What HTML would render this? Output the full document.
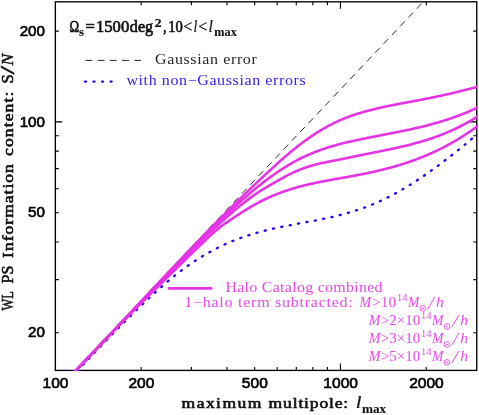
<!DOCTYPE html>
<html><head><meta charset="utf-8"><title>chart</title>
<style>html,body{margin:0;padding:0;background:#fff}svg{display:block}</style></head>
<body>
<svg width="479" height="415" viewBox="0 0 479 415">
<rect width="479" height="415" fill="#fff"/>
<g>
<defs><filter id="nf" filterUnits="userSpaceOnUse" x="0" y="0" width="479" height="415"><feOffset dx="0" dy="0"/></filter><clipPath id="cp"><rect x="54.75" y="1.20" width="422.60" height="369.80"/></clipPath></defs>
<rect x="55.35" y="1.80" width="421.40" height="368.60" fill="none" stroke="#000" stroke-width="1.35"/>
<path d="M141.17 370.40 v-3.50 M141.17 1.80 v3.50 M191.38 370.40 v-3.50 M191.38 1.80 v3.50 M227.00 370.40 v-3.50 M227.00 1.80 v3.50 M254.63 370.40 v-3.50 M254.63 1.80 v3.50 M277.20 370.40 v-3.50 M277.20 1.80 v3.50 M296.29 370.40 v-3.50 M296.29 1.80 v3.50 M312.82 370.40 v-3.50 M312.82 1.80 v3.50 M327.40 370.40 v-3.50 M327.40 1.80 v3.50 M340.45 370.40 v-6.90 M340.45 1.80 v6.90 M426.27 370.40 v-3.50 M426.27 1.80 v3.50 M55.35 332.72 h3.50 M476.75 332.72 h-3.50 M55.35 279.61 h3.50 M476.75 279.61 h-3.50 M55.35 241.93 h3.50 M476.75 241.93 h-3.50 M55.35 212.70 h3.50 M476.75 212.70 h-3.50 M55.35 188.82 h3.50 M476.75 188.82 h-3.50 M55.35 168.63 h3.50 M476.75 168.63 h-3.50 M55.35 151.14 h3.50 M476.75 151.14 h-3.50 M55.35 135.71 h3.50 M476.75 135.71 h-3.50 M55.35 121.91 h6.90 M476.75 121.91 h-6.90 M55.35 31.12 h3.50 M476.75 31.12 h-3.50" stroke="#000" stroke-width="1.1" fill="none"/>
<g clip-path="url(#cp)" fill="none">
<path d="M74.00 371.24 L426.00 -1.03" stroke="#111" stroke-width="0.9" stroke-dasharray="6.8 5.325" stroke-dashoffset="10.2"/>
<path d="M77.01 371.22 L77.76 370.42 M82.84 365.03 L83.60 364.23 M88.69 358.84 L89.44 358.04 M94.55 352.67 L95.31 351.88 M100.43 346.53 L101.19 345.73 M106.34 340.40 L107.10 339.61 M112.27 334.30 L113.04 333.52 M118.23 328.24 L119.01 327.45 M124.23 322.20 L125.01 321.42 M130.27 316.21 L131.05 315.44 M136.35 310.26 L137.14 309.49 M142.48 304.35 L143.27 303.59 M148.66 298.50 L149.46 297.75 M154.90 292.73 L155.72 291.99 M161.23 287.04 L162.06 286.31 M167.66 281.47 L168.50 280.76 M174.22 276.04 L175.07 275.35 M180.91 270.80 L181.79 270.13 M187.77 265.76 L188.67 265.13 M194.81 260.97 L195.73 260.37 M202.01 256.44 L202.95 255.88 M209.37 252.18 L210.33 251.65 M216.89 248.20 L217.87 247.71 M224.56 244.52 L225.56 244.07 M232.37 241.15 L233.39 240.74 M240.31 238.09 L241.35 237.72 M248.36 235.35 L249.41 235.02 M256.51 232.90 L257.57 232.60 M264.73 230.71 L265.80 230.44 M273.01 228.74 L274.08 228.50 M281.33 226.94 L282.40 226.72 M289.67 225.28 L290.75 225.07 M298.03 223.69 L299.11 223.48 M306.39 222.12 L307.47 221.92 M314.75 220.53 L315.83 220.32 M323.09 218.86 L324.17 218.64 M331.41 217.07 L332.48 216.83 M339.69 215.10 L340.75 214.83 M347.91 212.91 L348.97 212.61 M356.06 210.46 L357.10 210.13 M364.11 207.72 L365.14 207.34 M372.05 204.66 L373.06 204.24 M379.85 201.26 L380.85 200.80 M387.51 197.57 L388.49 197.07 M395.04 193.60 L396.01 193.08 M402.44 189.41 L403.39 188.85 M409.73 185.01 L410.66 184.43 M416.90 180.43 L417.82 179.83 M423.96 175.69 L424.87 175.07 M430.93 170.81 L431.83 170.17 M437.82 165.81 L438.70 165.16 M444.62 160.70 L445.49 160.04 M451.35 155.50 L452.22 154.82 M458.02 150.21 L458.88 149.53 M464.63 144.86 L465.48 144.16 M471.19 139.44 L472.03 138.73" stroke="#2200e8" stroke-width="2.3" stroke-linecap="round"/>
<path d="M74.00 372.38 L75.00 371.34 L76.00 370.30 L77.00 369.26 L78.00 368.22 L79.00 367.18 L80.00 366.14 L81.00 365.09 L82.00 364.05 L83.00 363.00 L84.00 361.96 L85.00 360.91 L86.00 359.86 L87.00 358.81 L88.00 357.76 L89.00 356.71 L90.00 355.66 L91.00 354.61 L92.00 353.56 L93.00 352.50 L94.00 351.45 L95.00 350.39 L96.00 349.34 L97.00 348.28 L98.00 347.23 L99.00 346.17 L100.00 345.11 L101.00 344.05 L102.00 342.99 L103.00 341.93 L104.00 340.87 L105.00 339.81 L106.00 338.75 L107.00 337.69 L108.00 336.63 L109.00 335.57 L110.00 334.51 L111.00 333.44 L112.00 332.38 L113.00 331.32 L114.00 330.25 L115.00 329.19 L116.00 328.12 L117.00 327.06 L118.00 325.99 L119.00 324.93 L120.00 323.86 L121.00 322.79 L122.00 321.73 L123.00 320.66 L124.00 319.59 L125.00 318.53 L126.00 317.46 L127.00 316.39 L128.00 315.32 L129.00 314.26 L130.00 313.19 L131.00 312.12 L132.00 311.05 L133.00 309.99 L134.00 308.92 L135.00 307.85 L136.00 306.78 L137.00 305.71 L138.00 304.65 L139.00 303.58 L140.00 302.51 L141.00 301.44 L142.00 300.37 L143.00 299.31 L144.00 298.24 L145.00 297.17 L146.00 296.11 L147.00 295.04 L148.00 293.97 L149.00 292.91 L150.00 291.84 L151.00 290.77 L152.00 289.71 L153.00 288.64 L154.00 287.58 L155.00 286.51 L156.00 285.45 L157.00 284.38 L158.00 283.32 L159.00 282.26 L160.00 281.19 L161.00 280.13 L162.00 279.07 L163.00 278.00 L164.00 276.94 L165.00 275.88 L166.00 274.82 L167.00 273.76 L168.00 272.70 L169.00 271.64 L170.00 270.59 L171.00 269.53 L172.00 268.47 L173.00 267.41 L174.00 266.36 L175.00 265.30 L176.00 264.25 L177.00 263.19 L178.00 262.14 L179.00 261.09 L180.00 260.03 L181.00 258.98 L182.00 257.93 L183.00 256.88 L184.00 255.83 L185.00 254.78 L186.00 253.74 L187.00 252.69 L188.00 251.64 L189.00 250.60 L190.00 249.56 L191.00 248.51 L192.00 247.47 L193.00 246.43 L194.00 245.39 L195.00 244.35 L196.00 243.31 L197.00 242.27 L198.00 241.24 L199.00 240.20 L200.00 239.17 L201.00 238.13 L202.00 237.10 L203.00 236.07 L204.00 235.04 L205.00 234.01 L206.00 232.98 L207.00 231.95 L208.00 230.93 L209.00 229.90 L210.00 228.88 L211.00 227.86 L212.00 226.84 L213.00 225.82 L214.00 224.80 L215.00 223.78 L216.00 222.76 L217.00 221.75 L218.00 220.74 L219.00 219.72 L220.00 218.71 L221.00 217.70 L222.00 216.70 L223.00 215.69 L224.00 214.69 L225.00 213.68 L226.00 212.68 L227.00 211.68 L228.00 210.68 L229.00 209.68 L230.00 208.69 L231.00 207.69 L232.00 206.70 L233.00 205.71 L234.00 204.72 L235.00 203.73 L236.00 202.74 L237.00 201.75 L238.00 200.77 L239.00 199.79 L240.00 198.81 L241.00 197.83 L242.00 196.85 L243.00 195.88 L244.00 194.90 L245.00 193.93 L246.00 192.96 L247.00 191.99 L248.00 191.03 L249.00 190.06 L250.00 189.10 L251.00 188.14 L252.00 187.18 L253.00 186.22 L254.00 185.27 L255.00 184.32 L256.00 183.36 L257.00 182.41 L258.00 181.47 L259.00 180.52 L260.00 179.58 L261.00 178.64 L262.00 177.70 L263.00 176.76 L264.00 175.82 L265.00 174.89 L266.00 173.96 L267.00 173.03 L268.00 172.10 L269.00 171.18 L270.00 170.26 L271.00 169.34 L272.00 168.42 L273.00 167.50 L274.00 166.59 L275.00 165.68 L276.00 164.77 L277.00 163.87 L278.00 162.97 L279.00 162.08 L280.00 161.18 L281.00 160.30 L282.00 159.42 L283.00 158.54 L284.00 157.66 L285.00 156.80 L286.00 155.94 L287.00 155.08 L288.00 154.23 L289.00 153.38 L290.00 152.55 L291.00 151.71 L292.00 150.89 L293.00 150.07 L294.00 149.26 L295.00 148.45 L296.00 147.65 L297.00 146.86 L298.00 146.08 L299.00 145.30 L300.00 144.54 L301.00 143.77 L302.00 143.02 L303.00 142.27 L304.00 141.54 L305.00 140.80 L306.00 140.08 L307.00 139.37 L308.00 138.66 L309.00 137.96 L310.00 137.27 L311.00 136.58 L312.00 135.90 L313.00 135.24 L314.00 134.57 L315.00 133.92 L316.00 133.28 L317.00 132.64 L318.00 132.01 L319.00 131.39 L320.00 130.78 L321.00 130.17 L322.00 129.58 L323.00 128.99 L324.00 128.41 L325.00 127.84 L326.00 127.28 L327.00 126.72 L328.00 126.18 L329.00 125.64 L330.00 125.11 L331.00 124.59 L332.00 124.07 L333.00 123.57 L334.00 123.07 L335.00 122.59 L336.00 122.11 L337.00 121.64 L338.00 121.18 L339.00 120.73 L340.00 120.28 L341.00 119.85 L342.00 119.42 L343.00 119.00 L344.00 118.59 L345.00 118.19 L346.00 117.80 L347.00 117.41 L348.00 117.03 L349.00 116.66 L350.00 116.30 L351.00 115.94 L352.00 115.59 L353.00 115.25 L354.00 114.91 L355.00 114.57 L356.00 114.25 L357.00 113.93 L358.00 113.61 L359.00 113.30 L360.00 113.00 L361.00 112.70 L362.00 112.40 L363.00 112.11 L364.00 111.82 L365.00 111.54 L366.00 111.26 L367.00 110.99 L368.00 110.72 L369.00 110.46 L370.00 110.19 L371.00 109.94 L372.00 109.68 L373.00 109.43 L374.00 109.19 L375.00 108.94 L376.00 108.70 L377.00 108.47 L378.00 108.23 L379.00 108.00 L380.00 107.78 L381.00 107.55 L382.00 107.33 L383.00 107.11 L384.00 106.90 L385.00 106.68 L386.00 106.47 L387.00 106.26 L388.00 106.05 L389.00 105.85 L390.00 105.65 L391.00 105.44 L392.00 105.24 L393.00 105.05 L394.00 104.85 L395.00 104.66 L396.00 104.46 L397.00 104.27 L398.00 104.08 L399.00 103.89 L400.00 103.70 L401.00 103.51 L402.00 103.32 L403.00 103.14 L404.00 102.95 L405.00 102.77 L406.00 102.58 L407.00 102.40 L408.00 102.21 L409.00 102.03 L410.00 101.84 L411.00 101.66 L412.00 101.47 L413.00 101.29 L414.00 101.10 L415.00 100.91 L416.00 100.73 L417.00 100.54 L418.00 100.35 L419.00 100.16 L420.00 99.97 L421.00 99.78 L422.00 99.58 L423.00 99.39 L424.00 99.20 L425.00 99.00 L426.00 98.80 L427.00 98.60 L428.00 98.41 L429.00 98.20 L430.00 98.00 L431.00 97.80 L432.00 97.60 L433.00 97.39 L434.00 97.18 L435.00 96.98 L436.00 96.77 L437.00 96.56 L438.00 96.34 L439.00 96.13 L440.00 95.92 L441.00 95.70 L442.00 95.48 L443.00 95.26 L444.00 95.04 L445.00 94.82 L446.00 94.60 L447.00 94.37 L448.00 94.15 L449.00 93.92 L450.00 93.69 L451.00 93.46 L452.00 93.23 L453.00 92.99 L454.00 92.76 L455.00 92.52 L456.00 92.28 L457.00 92.04 L458.00 91.80 L459.00 91.56 L460.00 91.31 L461.00 91.07 L462.00 90.82 L463.00 90.57 L464.00 90.31 L465.00 90.06 L466.00 89.80 L467.00 89.55 L468.00 89.29 L469.00 89.03 L470.00 88.76 L471.00 88.50 L472.00 88.23 L473.00 87.96 L474.00 87.69 L475.00 87.42 L476.00 87.14 L477.00 86.87 L478.00 86.59" stroke="#e633e6" stroke-width="2.6" stroke-linejoin="round"/>
<path d="M74.00 372.49 L75.00 371.44 L76.00 370.40 L77.00 369.36 L78.00 368.31 L79.00 367.27 L80.00 366.22 L81.00 365.17 L82.00 364.13 L83.00 363.08 L84.00 362.03 L85.00 360.98 L86.00 359.94 L87.00 358.89 L88.00 357.84 L89.00 356.79 L90.00 355.74 L91.00 354.69 L92.00 353.64 L93.00 352.58 L94.00 351.53 L95.00 350.48 L96.00 349.43 L97.00 348.37 L98.00 347.32 L99.00 346.27 L100.00 345.21 L101.00 344.16 L102.00 343.11 L103.00 342.05 L104.00 341.00 L105.00 339.94 L106.00 338.89 L107.00 337.83 L108.00 336.78 L109.00 335.72 L110.00 334.67 L111.00 333.61 L112.00 332.55 L113.00 331.50 L114.00 330.44 L115.00 329.39 L116.00 328.33 L117.00 327.27 L118.00 326.22 L119.00 325.16 L120.00 324.10 L121.00 323.05 L122.00 321.99 L123.00 320.93 L124.00 319.88 L125.00 318.82 L126.00 317.77 L127.00 316.71 L128.00 315.65 L129.00 314.60 L130.00 313.54 L131.00 312.49 L132.00 311.43 L133.00 310.38 L134.00 309.32 L135.00 308.27 L136.00 307.21 L137.00 306.16 L138.00 305.10 L139.00 304.05 L140.00 303.00 L141.00 301.94 L142.00 300.89 L143.00 299.84 L144.00 298.78 L145.00 297.73 L146.00 296.68 L147.00 295.63 L148.00 294.58 L149.00 293.53 L150.00 292.48 L151.00 291.43 L152.00 290.38 L153.00 289.33 L154.00 288.28 L155.00 287.23 L156.00 286.18 L157.00 285.14 L158.00 284.09 L159.00 283.04 L160.00 282.00 L161.00 280.95 L162.00 279.91 L163.00 278.86 L164.00 277.82 L165.00 276.78 L166.00 275.73 L167.00 274.69 L168.00 273.65 L169.00 272.61 L170.00 271.57 L171.00 270.53 L172.00 269.49 L173.00 268.46 L174.00 267.42 L175.00 266.38 L176.00 265.35 L177.00 264.31 L178.00 263.28 L179.00 262.25 L180.00 261.21 L181.00 260.18 L182.00 259.15 L183.00 258.12 L184.00 257.09 L185.00 256.06 L186.00 255.04 L187.00 254.01 L188.00 252.99 L189.00 251.96 L190.00 250.94 L191.00 249.91 L192.00 248.89 L193.00 247.87 L194.00 246.85 L195.00 245.83 L196.00 244.82 L197.00 243.80 L198.00 242.78 L199.00 241.77 L200.00 240.75 L201.00 239.74 L202.00 238.73 L203.00 237.72 L204.00 236.71 L205.00 235.70 L206.00 234.70 L207.00 233.69 L208.00 232.69 L209.00 231.69 L210.00 230.69 L211.00 229.69 L212.00 228.70 L213.00 227.71 L214.00 226.71 L215.00 225.73 L216.00 224.74 L217.00 223.76 L218.00 222.78 L219.00 221.80 L220.00 220.82 L221.00 219.85 L222.00 218.88 L223.00 217.91 L224.00 216.95 L225.00 215.98 L226.00 215.03 L227.00 214.07 L228.00 213.12 L229.00 212.17 L230.00 211.23 L231.00 210.29 L232.00 209.35 L233.00 208.42 L234.00 207.49 L235.00 206.56 L236.00 205.64 L237.00 204.73 L238.00 203.81 L239.00 202.90 L240.00 202.00 L241.00 201.10 L242.00 200.21 L243.00 199.32 L244.00 198.43 L245.00 197.55 L246.00 196.67 L247.00 195.80 L248.00 194.94 L249.00 194.08 L250.00 193.22 L251.00 192.37 L252.00 191.53 L253.00 190.69 L254.00 189.86 L255.00 189.03 L256.00 188.21 L257.00 187.39 L258.00 186.58 L259.00 185.78 L260.00 184.98 L261.00 184.19 L262.00 183.40 L263.00 182.62 L264.00 181.85 L265.00 181.08 L266.00 180.32 L267.00 179.57 L268.00 178.82 L269.00 178.08 L270.00 177.35 L271.00 176.62 L272.00 175.90 L273.00 175.19 L274.00 174.48 L275.00 173.78 L276.00 173.09 L277.00 172.41 L278.00 171.73 L279.00 171.06 L280.00 170.39 L281.00 169.74 L282.00 169.09 L283.00 168.45 L284.00 167.81 L285.00 167.19 L286.00 166.57 L287.00 165.96 L288.00 165.35 L289.00 164.76 L290.00 164.17 L291.00 163.59 L292.00 163.02 L293.00 162.45 L294.00 161.89 L295.00 161.35 L296.00 160.81 L297.00 160.27 L298.00 159.75 L299.00 159.23 L300.00 158.73 L301.00 158.23 L302.00 157.74 L303.00 157.26 L304.00 156.78 L305.00 156.31 L306.00 155.86 L307.00 155.40 L308.00 154.96 L309.00 154.52 L310.00 154.10 L311.00 153.67 L312.00 153.26 L313.00 152.85 L314.00 152.45 L315.00 152.06 L316.00 151.67 L317.00 151.29 L318.00 150.92 L319.00 150.55 L320.00 150.19 L321.00 149.83 L322.00 149.48 L323.00 149.14 L324.00 148.80 L325.00 148.47 L326.00 148.14 L327.00 147.82 L328.00 147.50 L329.00 147.19 L330.00 146.88 L331.00 146.58 L332.00 146.28 L333.00 145.99 L334.00 145.70 L335.00 145.42 L336.00 145.14 L337.00 144.87 L338.00 144.60 L339.00 144.33 L340.00 144.07 L341.00 143.81 L342.00 143.55 L343.00 143.30 L344.00 143.05 L345.00 142.81 L346.00 142.57 L347.00 142.33 L348.00 142.09 L349.00 141.86 L350.00 141.63 L351.00 141.40 L352.00 141.18 L353.00 140.95 L354.00 140.73 L355.00 140.51 L356.00 140.30 L357.00 140.08 L358.00 139.87 L359.00 139.66 L360.00 139.45 L361.00 139.24 L362.00 139.03 L363.00 138.82 L364.00 138.62 L365.00 138.42 L366.00 138.21 L367.00 138.01 L368.00 137.81 L369.00 137.61 L370.00 137.41 L371.00 137.21 L372.00 137.02 L373.00 136.82 L374.00 136.63 L375.00 136.43 L376.00 136.23 L377.00 136.04 L378.00 135.85 L379.00 135.65 L380.00 135.46 L381.00 135.26 L382.00 135.07 L383.00 134.88 L384.00 134.68 L385.00 134.49 L386.00 134.30 L387.00 134.10 L388.00 133.91 L389.00 133.71 L390.00 133.52 L391.00 133.32 L392.00 133.13 L393.00 132.93 L394.00 132.73 L395.00 132.53 L396.00 132.34 L397.00 132.14 L398.00 131.94 L399.00 131.73 L400.00 131.53 L401.00 131.33 L402.00 131.12 L403.00 130.92 L404.00 130.71 L405.00 130.50 L406.00 130.29 L407.00 130.08 L408.00 129.86 L409.00 129.65 L410.00 129.43 L411.00 129.21 L412.00 128.99 L413.00 128.77 L414.00 128.55 L415.00 128.32 L416.00 128.09 L417.00 127.86 L418.00 127.63 L419.00 127.40 L420.00 127.16 L421.00 126.92 L422.00 126.68 L423.00 126.44 L424.00 126.19 L425.00 125.94 L426.00 125.69 L427.00 125.43 L428.00 125.17 L429.00 124.91 L430.00 124.65 L431.00 124.38 L432.00 124.11 L433.00 123.84 L434.00 123.57 L435.00 123.29 L436.00 123.01 L437.00 122.72 L438.00 122.43 L439.00 122.14 L440.00 121.84 L441.00 121.54 L442.00 121.24 L443.00 120.93 L444.00 120.62 L445.00 120.30 L446.00 119.99 L447.00 119.66 L448.00 119.34 L449.00 119.00 L450.00 118.67 L451.00 118.33 L452.00 117.99 L453.00 117.64 L454.00 117.28 L455.00 116.93 L456.00 116.56 L457.00 116.20 L458.00 115.83 L459.00 115.45 L460.00 115.07 L461.00 114.68 L462.00 114.29 L463.00 113.90 L464.00 113.50 L465.00 113.09 L466.00 112.68 L467.00 112.26 L468.00 111.84 L469.00 111.41 L470.00 110.98 L471.00 110.54 L472.00 110.10 L473.00 109.65 L474.00 109.20 L475.00 108.74 L476.00 108.27 L477.00 107.80 L478.00 107.32" stroke="#e633e6" stroke-width="2.6" stroke-linejoin="round"/>
<path d="M74.00 372.46 L75.00 371.43 L76.00 370.39 L77.00 369.35 L78.00 368.32 L79.00 367.28 L80.00 366.24 L81.00 365.20 L82.00 364.16 L83.00 363.12 L84.00 362.07 L85.00 361.03 L86.00 359.99 L87.00 358.94 L88.00 357.90 L89.00 356.86 L90.00 355.81 L91.00 354.77 L92.00 353.72 L93.00 352.67 L94.00 351.63 L95.00 350.58 L96.00 349.53 L97.00 348.48 L98.00 347.44 L99.00 346.39 L100.00 345.34 L101.00 344.29 L102.00 343.24 L103.00 342.19 L104.00 341.14 L105.00 340.09 L106.00 339.04 L107.00 337.99 L108.00 336.94 L109.00 335.89 L110.00 334.84 L111.00 333.79 L112.00 332.74 L113.00 331.69 L114.00 330.64 L115.00 329.59 L116.00 328.54 L117.00 327.49 L118.00 326.43 L119.00 325.38 L120.00 324.33 L121.00 323.28 L122.00 322.23 L123.00 321.18 L124.00 320.13 L125.00 319.08 L126.00 318.03 L127.00 316.98 L128.00 315.94 L129.00 314.89 L130.00 313.84 L131.00 312.79 L132.00 311.74 L133.00 310.69 L134.00 309.65 L135.00 308.60 L136.00 307.55 L137.00 306.51 L138.00 305.46 L139.00 304.42 L140.00 303.37 L141.00 302.33 L142.00 301.29 L143.00 300.24 L144.00 299.20 L145.00 298.16 L146.00 297.12 L147.00 296.08 L148.00 295.04 L149.00 294.00 L150.00 292.96 L151.00 291.92 L152.00 290.88 L153.00 289.85 L154.00 288.81 L155.00 287.78 L156.00 286.74 L157.00 285.71 L158.00 284.67 L159.00 283.64 L160.00 282.61 L161.00 281.58 L162.00 280.55 L163.00 279.52 L164.00 278.50 L165.00 277.47 L166.00 276.45 L167.00 275.42 L168.00 274.40 L169.00 273.38 L170.00 272.35 L171.00 271.33 L172.00 270.32 L173.00 269.30 L174.00 268.28 L175.00 267.26 L176.00 266.25 L177.00 265.24 L178.00 264.22 L179.00 263.21 L180.00 262.20 L181.00 261.20 L182.00 260.19 L183.00 259.18 L184.00 258.18 L185.00 257.18 L186.00 256.17 L187.00 255.17 L188.00 254.17 L189.00 253.18 L190.00 252.18 L191.00 251.19 L192.00 250.19 L193.00 249.20 L194.00 248.21 L195.00 247.22 L196.00 246.24 L197.00 245.25 L198.00 244.27 L199.00 243.28 L200.00 242.30 L201.00 241.32 L202.00 240.35 L203.00 239.37 L204.00 238.40 L205.00 237.43 L206.00 236.46 L207.00 235.49 L208.00 234.53 L209.00 233.57 L210.00 232.61 L211.00 231.65 L212.00 230.70 L213.00 229.75 L214.00 228.81 L215.00 227.87 L216.00 226.93 L217.00 225.99 L218.00 225.06 L219.00 224.14 L220.00 223.21 L221.00 222.30 L222.00 221.38 L223.00 220.47 L224.00 219.57 L225.00 218.67 L226.00 217.77 L227.00 216.88 L228.00 216.00 L229.00 215.12 L230.00 214.25 L231.00 213.38 L232.00 212.51 L233.00 211.66 L234.00 210.81 L235.00 209.96 L236.00 209.13 L237.00 208.29 L238.00 207.47 L239.00 206.65 L240.00 205.84 L241.00 205.03 L242.00 204.23 L243.00 203.44 L244.00 202.66 L245.00 201.88 L246.00 201.12 L247.00 200.36 L248.00 199.60 L249.00 198.86 L250.00 198.12 L251.00 197.39 L252.00 196.67 L253.00 195.96 L254.00 195.26 L255.00 194.56 L256.00 193.88 L257.00 193.20 L258.00 192.53 L259.00 191.88 L260.00 191.23 L261.00 190.59 L262.00 189.96 L263.00 189.34 L264.00 188.72 L265.00 188.11 L266.00 187.51 L267.00 186.91 L268.00 186.32 L269.00 185.73 L270.00 185.15 L271.00 184.56 L272.00 183.98 L273.00 183.41 L274.00 182.83 L275.00 182.26 L276.00 181.69 L277.00 181.12 L278.00 180.56 L279.00 180.00 L280.00 179.44 L281.00 178.89 L282.00 178.34 L283.00 177.80 L284.00 177.26 L285.00 176.72 L286.00 176.19 L287.00 175.67 L288.00 175.16 L289.00 174.65 L290.00 174.14 L291.00 173.65 L292.00 173.17 L293.00 172.69 L294.00 172.22 L295.00 171.76 L296.00 171.31 L297.00 170.87 L298.00 170.44 L299.00 170.03 L300.00 169.62 L301.00 169.23 L302.00 168.84 L303.00 168.47 L304.00 168.11 L305.00 167.76 L306.00 167.42 L307.00 167.09 L308.00 166.77 L309.00 166.46 L310.00 166.15 L311.00 165.86 L312.00 165.57 L313.00 165.29 L314.00 165.02 L315.00 164.76 L316.00 164.50 L317.00 164.25 L318.00 164.01 L319.00 163.77 L320.00 163.53 L321.00 163.30 L322.00 163.08 L323.00 162.86 L324.00 162.64 L325.00 162.43 L326.00 162.22 L327.00 162.02 L328.00 161.81 L329.00 161.61 L330.00 161.41 L331.00 161.22 L332.00 161.02 L333.00 160.83 L334.00 160.63 L335.00 160.44 L336.00 160.24 L337.00 160.05 L338.00 159.85 L339.00 159.66 L340.00 159.46 L341.00 159.26 L342.00 159.06 L343.00 158.86 L344.00 158.65 L345.00 158.45 L346.00 158.24 L347.00 158.03 L348.00 157.83 L349.00 157.62 L350.00 157.41 L351.00 157.20 L352.00 156.99 L353.00 156.78 L354.00 156.57 L355.00 156.36 L356.00 156.15 L357.00 155.94 L358.00 155.73 L359.00 155.53 L360.00 155.32 L361.00 155.12 L362.00 154.91 L363.00 154.71 L364.00 154.50 L365.00 154.30 L366.00 154.10 L367.00 153.90 L368.00 153.70 L369.00 153.50 L370.00 153.30 L371.00 153.10 L372.00 152.90 L373.00 152.70 L374.00 152.50 L375.00 152.31 L376.00 152.11 L377.00 151.91 L378.00 151.71 L379.00 151.51 L380.00 151.31 L381.00 151.10 L382.00 150.90 L383.00 150.70 L384.00 150.50 L385.00 150.29 L386.00 150.09 L387.00 149.88 L388.00 149.67 L389.00 149.46 L390.00 149.25 L391.00 149.04 L392.00 148.83 L393.00 148.61 L394.00 148.40 L395.00 148.18 L396.00 147.96 L397.00 147.74 L398.00 147.51 L399.00 147.29 L400.00 147.06 L401.00 146.83 L402.00 146.60 L403.00 146.37 L404.00 146.13 L405.00 145.89 L406.00 145.65 L407.00 145.40 L408.00 145.16 L409.00 144.91 L410.00 144.65 L411.00 144.40 L412.00 144.14 L413.00 143.88 L414.00 143.61 L415.00 143.34 L416.00 143.07 L417.00 142.79 L418.00 142.51 L419.00 142.23 L420.00 141.94 L421.00 141.65 L422.00 141.36 L423.00 141.06 L424.00 140.76 L425.00 140.45 L426.00 140.14 L427.00 139.83 L428.00 139.51 L429.00 139.18 L430.00 138.86 L431.00 138.52 L432.00 138.19 L433.00 137.84 L434.00 137.50 L435.00 137.14 L436.00 136.79 L437.00 136.42 L438.00 136.06 L439.00 135.68 L440.00 135.31 L441.00 134.92 L442.00 134.53 L443.00 134.14 L444.00 133.74 L445.00 133.33 L446.00 132.92 L447.00 132.51 L448.00 132.08 L449.00 131.65 L450.00 131.22 L451.00 130.77 L452.00 130.33 L453.00 129.87 L454.00 129.41 L455.00 128.94 L456.00 128.47 L457.00 127.99 L458.00 127.50 L459.00 127.01 L460.00 126.50 L461.00 126.00 L462.00 125.48 L463.00 124.96 L464.00 124.43 L465.00 123.89 L466.00 123.35 L467.00 122.79 L468.00 122.23 L469.00 121.67 L470.00 121.09 L471.00 120.51 L472.00 119.92 L473.00 119.32 L474.00 118.71 L475.00 118.09 L476.00 117.47 L477.00 116.84 L478.00 116.20" stroke="#e633e6" stroke-width="2.6" stroke-linejoin="round"/>
<path d="M74.00 372.91 L75.00 371.81 L76.00 370.71 L77.00 369.62 L78.00 368.52 L79.00 367.43 L80.00 366.35 L81.00 365.26 L82.00 364.18 L83.00 363.09 L84.00 362.02 L85.00 360.94 L86.00 359.86 L87.00 358.79 L88.00 357.72 L89.00 356.65 L90.00 355.58 L91.00 354.52 L92.00 353.46 L93.00 352.40 L94.00 351.34 L95.00 350.28 L96.00 349.22 L97.00 348.17 L98.00 347.12 L99.00 346.07 L100.00 345.02 L101.00 343.98 L102.00 342.93 L103.00 341.89 L104.00 340.85 L105.00 339.81 L106.00 338.77 L107.00 337.73 L108.00 336.70 L109.00 335.67 L110.00 334.63 L111.00 333.60 L112.00 332.58 L113.00 331.55 L114.00 330.52 L115.00 329.50 L116.00 328.48 L117.00 327.46 L118.00 326.44 L119.00 325.42 L120.00 324.40 L121.00 323.38 L122.00 322.37 L123.00 321.36 L124.00 320.34 L125.00 319.33 L126.00 318.32 L127.00 317.31 L128.00 316.31 L129.00 315.30 L130.00 314.29 L131.00 313.29 L132.00 312.29 L133.00 311.29 L134.00 310.28 L135.00 309.28 L136.00 308.28 L137.00 307.29 L138.00 306.29 L139.00 305.29 L140.00 304.30 L141.00 303.30 L142.00 302.31 L143.00 301.31 L144.00 300.32 L145.00 299.33 L146.00 298.34 L147.00 297.35 L148.00 296.36 L149.00 295.37 L150.00 294.38 L151.00 293.39 L152.00 292.40 L153.00 291.42 L154.00 290.43 L155.00 289.44 L156.00 288.46 L157.00 287.47 L158.00 286.49 L159.00 285.50 L160.00 284.52 L161.00 283.54 L162.00 282.55 L163.00 281.57 L164.00 280.59 L165.00 279.61 L166.00 278.62 L167.00 277.64 L168.00 276.66 L169.00 275.68 L170.00 274.70 L171.00 273.72 L172.00 272.74 L173.00 271.75 L174.00 270.77 L175.00 269.79 L176.00 268.81 L177.00 267.83 L178.00 266.85 L179.00 265.87 L180.00 264.89 L181.00 263.91 L182.00 262.94 L183.00 261.96 L184.00 260.98 L185.00 260.00 L186.00 259.02 L187.00 258.05 L188.00 257.07 L189.00 256.09 L190.00 255.12 L191.00 254.14 L192.00 253.16 L193.00 252.19 L194.00 251.21 L195.00 250.24 L196.00 249.27 L197.00 248.29 L198.00 247.32 L199.00 246.35 L200.00 245.38 L201.00 244.41 L202.00 243.43 L203.00 242.47 L204.00 241.50 L205.00 240.54 L206.00 239.58 L207.00 238.63 L208.00 237.68 L209.00 236.75 L210.00 235.82 L211.00 234.90 L212.00 233.99 L213.00 233.09 L214.00 232.21 L215.00 231.34 L216.00 230.49 L217.00 229.65 L218.00 228.82 L219.00 228.02 L220.00 227.23 L221.00 226.47 L222.00 225.72 L223.00 224.98 L224.00 224.27 L225.00 223.56 L226.00 222.86 L227.00 222.18 L228.00 221.50 L229.00 220.82 L230.00 220.15 L231.00 219.48 L232.00 218.82 L233.00 218.15 L234.00 217.49 L235.00 216.82 L236.00 216.17 L237.00 215.51 L238.00 214.86 L239.00 214.21 L240.00 213.56 L241.00 212.92 L242.00 212.28 L243.00 211.65 L244.00 211.02 L245.00 210.40 L246.00 209.78 L247.00 209.16 L248.00 208.55 L249.00 207.95 L250.00 207.35 L251.00 206.76 L252.00 206.18 L253.00 205.60 L254.00 205.03 L255.00 204.46 L256.00 203.91 L257.00 203.36 L258.00 202.82 L259.00 202.28 L260.00 201.76 L261.00 201.24 L262.00 200.73 L263.00 200.23 L264.00 199.74 L265.00 199.25 L266.00 198.78 L267.00 198.31 L268.00 197.85 L269.00 197.39 L270.00 196.95 L271.00 196.51 L272.00 196.08 L273.00 195.65 L274.00 195.24 L275.00 194.83 L276.00 194.42 L277.00 194.03 L278.00 193.64 L279.00 193.25 L280.00 192.88 L281.00 192.51 L282.00 192.14 L283.00 191.79 L284.00 191.44 L285.00 191.09 L286.00 190.75 L287.00 190.42 L288.00 190.09 L289.00 189.77 L290.00 189.45 L291.00 189.14 L292.00 188.83 L293.00 188.53 L294.00 188.23 L295.00 187.94 L296.00 187.65 L297.00 187.37 L298.00 187.09 L299.00 186.82 L300.00 186.55 L301.00 186.29 L302.00 186.03 L303.00 185.77 L304.00 185.52 L305.00 185.27 L306.00 185.03 L307.00 184.79 L308.00 184.55 L309.00 184.32 L310.00 184.09 L311.00 183.86 L312.00 183.64 L313.00 183.42 L314.00 183.20 L315.00 182.99 L316.00 182.77 L317.00 182.57 L318.00 182.36 L319.00 182.15 L320.00 181.95 L321.00 181.75 L322.00 181.56 L323.00 181.36 L324.00 181.17 L325.00 180.98 L326.00 180.79 L327.00 180.60 L328.00 180.41 L329.00 180.23 L330.00 180.04 L331.00 179.86 L332.00 179.68 L333.00 179.50 L334.00 179.32 L335.00 179.14 L336.00 178.96 L337.00 178.78 L338.00 178.61 L339.00 178.43 L340.00 178.25 L341.00 178.08 L342.00 177.90 L343.00 177.73 L344.00 177.55 L345.00 177.37 L346.00 177.20 L347.00 177.02 L348.00 176.84 L349.00 176.66 L350.00 176.48 L351.00 176.30 L352.00 176.12 L353.00 175.94 L354.00 175.76 L355.00 175.57 L356.00 175.39 L357.00 175.20 L358.00 175.01 L359.00 174.82 L360.00 174.63 L361.00 174.43 L362.00 174.24 L363.00 174.04 L364.00 173.84 L365.00 173.64 L366.00 173.43 L367.00 173.23 L368.00 173.02 L369.00 172.81 L370.00 172.59 L371.00 172.38 L372.00 172.16 L373.00 171.94 L374.00 171.72 L375.00 171.49 L376.00 171.26 L377.00 171.03 L378.00 170.80 L379.00 170.56 L380.00 170.32 L381.00 170.08 L382.00 169.84 L383.00 169.59 L384.00 169.34 L385.00 169.09 L386.00 168.83 L387.00 168.57 L388.00 168.31 L389.00 168.04 L390.00 167.77 L391.00 167.50 L392.00 167.22 L393.00 166.95 L394.00 166.66 L395.00 166.38 L396.00 166.09 L397.00 165.79 L398.00 165.50 L399.00 165.20 L400.00 164.89 L401.00 164.58 L402.00 164.27 L403.00 163.96 L404.00 163.64 L405.00 163.31 L406.00 162.98 L407.00 162.65 L408.00 162.32 L409.00 161.98 L410.00 161.63 L411.00 161.28 L412.00 160.93 L413.00 160.58 L414.00 160.21 L415.00 159.85 L416.00 159.48 L417.00 159.10 L418.00 158.72 L419.00 158.34 L420.00 157.95 L421.00 157.56 L422.00 157.16 L423.00 156.76 L424.00 156.35 L425.00 155.94 L426.00 155.52 L427.00 155.09 L428.00 154.67 L429.00 154.23 L430.00 153.80 L431.00 153.35 L432.00 152.90 L433.00 152.45 L434.00 151.99 L435.00 151.53 L436.00 151.06 L437.00 150.58 L438.00 150.10 L439.00 149.61 L440.00 149.12 L441.00 148.62 L442.00 148.12 L443.00 147.61 L444.00 147.10 L445.00 146.58 L446.00 146.05 L447.00 145.52 L448.00 144.98 L449.00 144.43 L450.00 143.88 L451.00 143.33 L452.00 142.76 L453.00 142.19 L454.00 141.62 L455.00 141.04 L456.00 140.45 L457.00 139.85 L458.00 139.25 L459.00 138.64 L460.00 138.03 L461.00 137.41 L462.00 136.78 L463.00 136.15 L464.00 135.51 L465.00 134.86 L466.00 134.20 L467.00 133.54 L468.00 132.87 L469.00 132.20 L470.00 131.52 L471.00 130.83 L472.00 130.13 L473.00 129.43 L474.00 128.71 L475.00 128.00 L476.00 127.27 L477.00 126.54 L478.00 125.80" stroke="#e633e6" stroke-width="2.6" stroke-linejoin="round"/>
</g>
<path d="M85.4 60.4 H141" stroke="#111" stroke-width="0.9" stroke-dasharray="6.85 5.4" fill="none"/>
<path d="M85 81.6 H112" stroke="#2200e8" stroke-width="2.3" stroke-linecap="round" stroke-dasharray="1.1 7.4" fill="none"/>
<path d="M169.0 288.4 H211.2" stroke="#e633e6" stroke-width="2.6" stroke-linecap="round" fill="none"/>
<g filter="url(#nf)">
<g font-family="'Liberation Sans', sans-serif" font-size="14.4" fill="#000" stroke="#000" stroke-width="0.6">
<text x="55.55" y="388.2" text-anchor="middle" textLength="25.95" lengthAdjust="spacingAndGlyphs">100</text>
<text x="141.37" y="388.2" text-anchor="middle" textLength="25.95" lengthAdjust="spacingAndGlyphs">200</text>
<text x="254.83" y="388.2" text-anchor="middle" textLength="25.95" lengthAdjust="spacingAndGlyphs">500</text>
<text x="340.65" y="388.2" text-anchor="middle" textLength="34.60" lengthAdjust="spacingAndGlyphs">1000</text>
<text x="426.47" y="388.2" text-anchor="middle" textLength="34.60" lengthAdjust="spacingAndGlyphs">2000</text>
<text x="45.0" y="337.42" text-anchor="end" textLength="16.90" lengthAdjust="spacingAndGlyphs">20</text>
<text x="45.0" y="217.40" text-anchor="end" textLength="16.90" lengthAdjust="spacingAndGlyphs">50</text>
<text x="45.0" y="126.61" text-anchor="end" textLength="25.35" lengthAdjust="spacingAndGlyphs">100</text>
<text x="45.0" y="35.82" text-anchor="end" textLength="25.35" lengthAdjust="spacingAndGlyphs">200</text>
</g>
<g font-family="'Liberation Serif', serif" font-weight="normal" fill="#111" stroke="#111" stroke-width="0.65" stroke-linejoin="round">
<text x="69.60" y="32.10" font-size="15.80" textLength="9.60" lengthAdjust="spacingAndGlyphs" >&#937;</text>
<text x="79.00" y="36.40" font-size="12.50" textLength="5.00" lengthAdjust="spacingAndGlyphs" font-weight="bold" stroke-width="0.1">s</text>
<text x="85.40" y="32.10" font-size="15.80" textLength="9.40" lengthAdjust="spacingAndGlyphs" >=</text>
<text x="96.00" y="32.10" font-size="15.80" textLength="33.20" lengthAdjust="spacingAndGlyphs" >1500</text>
<text x="129.80" y="32.10" font-size="15.80" textLength="23.40" lengthAdjust="spacingAndGlyphs" >deg</text>
<text x="154.50" y="26.70" font-size="11.50" textLength="7.20" lengthAdjust="spacingAndGlyphs" font-weight="bold" stroke-width="0.1">2</text>
<text x="163.30" y="32.10" font-size="15.80" textLength="3.20" lengthAdjust="spacingAndGlyphs" >,</text>
<text x="168.20" y="32.10" font-size="15.80" textLength="14.60" lengthAdjust="spacingAndGlyphs" >10</text>
<text x="183.30" y="32.10" font-size="15.80" textLength="9.00" lengthAdjust="spacingAndGlyphs" stroke-width="0.3">&lt;</text>
<text x="193.60" y="32.10" font-size="15.80" textLength="3.80" lengthAdjust="spacingAndGlyphs" font-style="italic" stroke-width="0.2">l</text>
<text x="198.30" y="32.10" font-size="15.80" textLength="9.00" lengthAdjust="spacingAndGlyphs" stroke-width="0.3">&lt;</text>
<text x="208.60" y="32.10" font-size="15.80" textLength="4.40" lengthAdjust="spacingAndGlyphs" font-style="italic" stroke-width="0.2">l</text>
<text x="214.30" y="36.40" font-size="11.80" textLength="22.50" lengthAdjust="spacingAndGlyphs" font-weight="bold" stroke-width="0.1">max</text>
</g>
<g font-family="'Liberation Serif', serif" fill="#262626">
<text transform="translate(155.00,63.60) scale(1.080,1)" font-size="14.80" textLength="94.26" lengthAdjust="spacing" >Gaussian error</text>
</g>
<g font-family="'Liberation Serif', serif" fill="#3820f2">
<text transform="translate(126.40,84.60) scale(1.080,1)" font-size="14.80" textLength="166.02" lengthAdjust="spacing" >with non&#8722;Gaussian errors</text>
</g>
<g font-family="'Liberation Serif', serif" fill="#e848e8">
<text transform="translate(225.40,292.10) scale(1.080,1)" font-size="14.80" textLength="145.56" lengthAdjust="spacing" >Halo Catalog combined</text>
<text transform="translate(184.30,307.20) scale(1.080,1)" font-size="14.80" textLength="155.93" lengthAdjust="spacing" >1&#8722;halo term subtracted:</text>
<text x="359.40" y="306.50" font-size="14.60" textLength="11.60" lengthAdjust="spacingAndGlyphs" font-style="italic">M</text>
<text x="372.10" y="306.50" font-size="14.60" textLength="24.20" lengthAdjust="spacingAndGlyphs" >&gt;10</text>
<text x="396.90" y="300.80" font-size="11.20" textLength="10.60" lengthAdjust="spacingAndGlyphs" >14</text>
<text x="407.90" y="306.50" font-size="14.60" textLength="11.40" lengthAdjust="spacingAndGlyphs" font-style="italic">M</text>
<circle cx="422.80" cy="308.40" r="2.8" fill="none" stroke="#e848e8" stroke-width="0.95"/><circle cx="422.80" cy="308.40" r="0.85" fill="#e848e8"/>
<path d="M427.50 309.30 L435.00 296.80" stroke="#e848e8" stroke-width="1.0" fill="none"/>
<text x="436.10" y="306.50" font-size="14.60" textLength="7.80" lengthAdjust="spacingAndGlyphs" font-style="italic">h</text>
<text x="368.80" y="324.60" font-size="14.60" textLength="11.60" lengthAdjust="spacingAndGlyphs" font-style="italic">M</text>
<text x="380.90" y="324.60" font-size="14.60" textLength="39.20" lengthAdjust="spacingAndGlyphs" >&gt;2&#215;10</text>
<text x="421.00" y="318.90" font-size="11.20" textLength="10.60" lengthAdjust="spacingAndGlyphs" >14</text>
<text x="432.00" y="324.60" font-size="14.60" textLength="11.40" lengthAdjust="spacingAndGlyphs" font-style="italic">M</text>
<circle cx="446.90" cy="326.50" r="2.8" fill="none" stroke="#e848e8" stroke-width="0.95"/><circle cx="446.90" cy="326.50" r="0.85" fill="#e848e8"/>
<path d="M451.60 327.40 L459.10 314.90" stroke="#e848e8" stroke-width="1.0" fill="none"/>
<text x="460.20" y="324.60" font-size="14.60" textLength="7.80" lengthAdjust="spacingAndGlyphs" font-style="italic">h</text>
<text x="368.80" y="342.60" font-size="14.60" textLength="11.60" lengthAdjust="spacingAndGlyphs" font-style="italic">M</text>
<text x="380.90" y="342.60" font-size="14.60" textLength="39.20" lengthAdjust="spacingAndGlyphs" >&gt;3&#215;10</text>
<text x="421.00" y="336.90" font-size="11.20" textLength="10.60" lengthAdjust="spacingAndGlyphs" >14</text>
<text x="432.00" y="342.60" font-size="14.60" textLength="11.40" lengthAdjust="spacingAndGlyphs" font-style="italic">M</text>
<circle cx="446.90" cy="344.50" r="2.8" fill="none" stroke="#e848e8" stroke-width="0.95"/><circle cx="446.90" cy="344.50" r="0.85" fill="#e848e8"/>
<path d="M451.60 345.40 L459.10 332.90" stroke="#e848e8" stroke-width="1.0" fill="none"/>
<text x="460.20" y="342.60" font-size="14.60" textLength="7.80" lengthAdjust="spacingAndGlyphs" font-style="italic">h</text>
<text x="368.80" y="360.50" font-size="14.60" textLength="11.60" lengthAdjust="spacingAndGlyphs" font-style="italic">M</text>
<text x="380.90" y="360.50" font-size="14.60" textLength="39.20" lengthAdjust="spacingAndGlyphs" >&gt;5&#215;10</text>
<text x="421.00" y="354.80" font-size="11.20" textLength="10.60" lengthAdjust="spacingAndGlyphs" >14</text>
<text x="432.00" y="360.50" font-size="14.60" textLength="11.40" lengthAdjust="spacingAndGlyphs" font-style="italic">M</text>
<circle cx="446.90" cy="362.40" r="2.8" fill="none" stroke="#e848e8" stroke-width="0.95"/><circle cx="446.90" cy="362.40" r="0.85" fill="#e848e8"/>
<path d="M451.60 363.30 L459.10 350.80" stroke="#e848e8" stroke-width="1.0" fill="none"/>
<text x="460.20" y="360.50" font-size="14.60" textLength="7.80" lengthAdjust="spacingAndGlyphs" font-style="italic">h</text>
</g>
<g font-family="'Liberation Serif', serif" font-weight="normal" fill="#111" stroke="#111" stroke-width="0.6" stroke-linejoin="round">
<text transform="translate(181.60,407.70) scale(1.180,1)" font-size="14.90" textLength="67.63" lengthAdjust="spacing" >maximum</text>
<text transform="translate(268.60,407.70) scale(1.180,1)" font-size="14.90" textLength="67.46" lengthAdjust="spacing" >multipole:</text>
<text x="355.70" y="407.70" font-size="16.50" textLength="5.80" lengthAdjust="spacingAndGlyphs" font-style="italic" stroke-width="0.2">l</text>
<text x="362.00" y="412.60" font-size="12.00" textLength="24.20" lengthAdjust="spacingAndGlyphs" font-weight="bold" stroke-width="0.1">max</text>
<g transform="translate(13.2,0) rotate(-90)">
<text transform="translate(-310.40,0.00) scale(1.000,1)" font-size="17.00" textLength="19.20" lengthAdjust="spacingAndGlyphs" >WL</text>
<text transform="translate(-283.50,0.00) scale(1.000,1)" font-size="17.00" textLength="17.80" lengthAdjust="spacingAndGlyphs" >PS</text>
<text transform="translate(-257.90,0.00) scale(1.180,1)" font-size="14.90" textLength="79.49" lengthAdjust="spacing" >Information</text>
<text transform="translate(-155.90,0.00) scale(1.180,1)" font-size="14.90" textLength="54.41" lengthAdjust="spacing" >content:</text>
<text transform="translate(-83.40,0.00) scale(1.000,1)" font-size="17.00" textLength="9.20" lengthAdjust="spacingAndGlyphs" >S</text>
<text transform="translate(-74.40,0.00) scale(1.000,1)" font-size="19.50" textLength="8.60" lengthAdjust="spacingAndGlyphs" stroke-width="0.5" dy="1.2">/</text>
<text transform="translate(-65.60,0.00) scale(1.000,1)" font-size="17.00" textLength="11.80" lengthAdjust="spacingAndGlyphs" font-style="italic" stroke-width="0.45">N</text>
</g>
</g>
</g>
</g>
</svg>
</body></html>
